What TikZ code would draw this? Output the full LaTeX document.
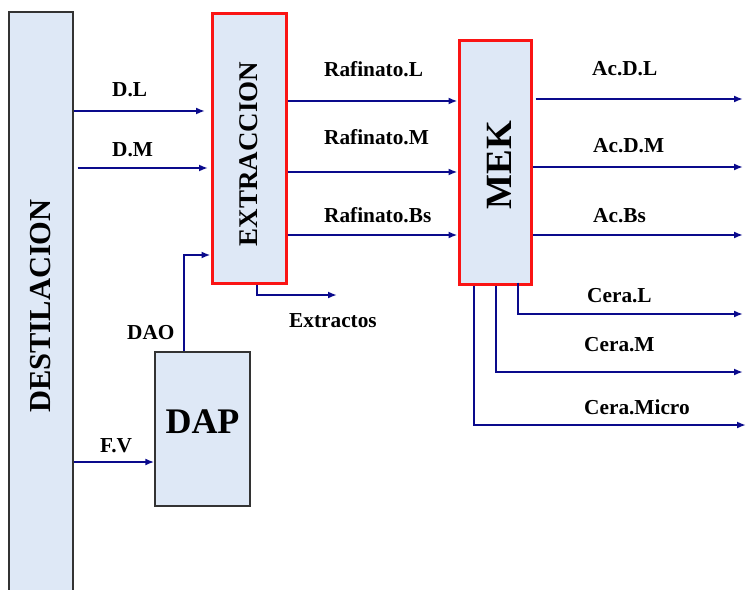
\documentclass[tikz,border=0pt]{standalone}
\usepackage{fontspec}
\setmainfont{Liberation Serif}
\usetikzlibrary{arrows.meta}
\definecolor{flowblue}{RGB}{10,10,140}
\definecolor{boxfill}{RGB}{222,232,246}
\definecolor{redline}{RGB}{250,20,20}
\begin{document}
\begin{tikzpicture}[x=1bp,y=-1bp,
  unitbox/.style={draw=black!80, line width=1.4bp, fill=boxfill, inner sep=0pt},
  redbox/.style={draw=redline, line width=3bp, fill=boxfill, inner sep=0pt},
  flow/.style={draw=flowblue, line width=2bp, -{Latex[length=9bp,width=7bp]}},
  lbl/.style={anchor=base west, inner sep=0pt, font=\fontsize{21.3bp}{25bp}\selectfont\bfseries},
  big/.style={inner sep=0pt, font=\fontsize{#1}{#1}\selectfont\bfseries}
]
\useasboundingbox (0,0) rectangle (747,590);
% boxes
\node[unitbox, minimum width=64bp, minimum height=588bp] (dest) at (41,306) {};
\node[big=30.5bp, rotate=90] (destt) at (41,306) {DESTILACION};
\node[redbox, minimum width=74bp, minimum height=269bp] (ext) at (249,148.5) {};
\node[big=27bp, rotate=90] (extt) at (249,154) {EXTRACCION};
\node[redbox, minimum width=72bp, minimum height=243bp] (mek) at (495,162.5) {};
\node[big=37bp, rotate=90] (mekt) at (499,165) {MEK};
\node[unitbox, minimum width=95bp, minimum height=154bp] (dap) at (202.5,429) {};
\node[big=36bp, anchor=base] (dapt) at (202.5,433) {DAP};
% free-end coordinates
\coordinate (dlend) at (205,111);
\coordinate (dmend) at (208,168);
\coordinate (daoc) at (184,255);
\coordinate (extc) at (257,295);
\coordinate (extend) at (337,295);
\coordinate (adl) at (743,99);
\coordinate (adm) at (743,167);
\coordinate (abs) at (743,235);
\coordinate (clc) at (518,314);
\coordinate (cle) at (743,314);
\coordinate (cmc) at (496,372);
\coordinate (cme) at (743,372);
\coordinate (cuc) at (474,425);
\coordinate (cue) at (746,425);
% connectors
\draw[flow] (dest.east |- dlend) -- (dlend);
\draw[flow] ([xshift=4bp]dest.east |- dmend) -- (dmend);
\draw[flow] (dest.east |- 0,462) -- (dap.west |- 0,462);
\draw[flow] (dap.north -| daoc) -- (daoc) -- (ext.west |- daoc);
\draw[flow] (ext.south -| extc) -- (extc) -- (extend);
\draw[flow] (ext.east |- 0,101) -- (mek.west |- 0,101);
\draw[flow] (ext.east |- 0,172) -- (mek.west |- 0,172);
\draw[flow] (ext.east |- 0,235) -- (mek.west |- 0,235);
\draw[flow] ([xshift=3bp]mek.east |- adl) -- (adl);
\draw[flow] (mek.east |- adm) -- (adm);
\draw[flow] (mek.east |- abs) -- (abs);
\draw[flow] ([yshift=3bp]mek.south -| clc) -- (clc) -- (cle);
\draw[flow] (mek.south -| cmc) -- (cmc) -- (cme);
\draw[flow] (mek.south -| cuc) -- (cuc) -- (cue);
% labels
\node[lbl] (ldl) at (112,97) {D.L};
\node[lbl] (ldm) at (112,157) {D.M};
\node[lbl] (lfv) at (100,452) {F.V};
\node[lbl] (ldao) at (127,339) {DAO};
\node[lbl] (lext) at (289,327) {Extractos};
\node[lbl] (lrl) at (324,77) {Rafinato.L};
\node[lbl] (lrm) at (324,145) {Rafinato.M};
\node[lbl] (lrb) at (324,223) {Rafinato.Bs};
\node[lbl] (ladl) at (592,76) {Ac.D.L};
\node[lbl] (ladm) at (593,153) {Ac.D.M};
\node[lbl] (labs) at (593,223) {Ac.Bs};
\node[lbl] (lcl) at (587,302) {Cera.L};
\node[lbl] (lcm) at (584,351) {Cera.M};
\node[lbl] (lcu) at (584,414) {Cera.Micro};
\end{tikzpicture}
\end{document}
